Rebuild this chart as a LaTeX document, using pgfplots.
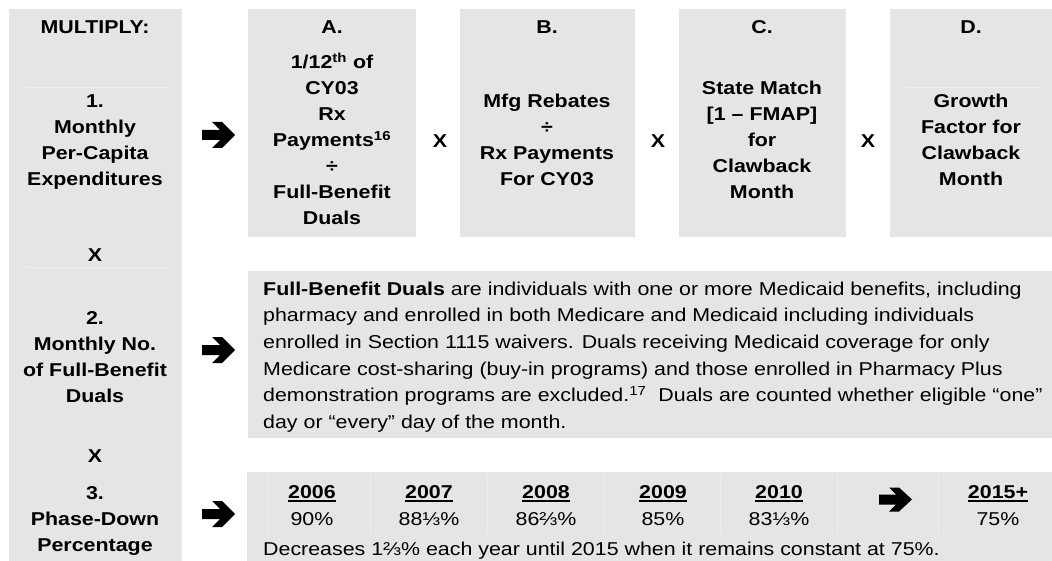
\documentclass[border=0pt]{standalone}
\usepackage{pgfplots}
\pgfplotsset{compat=1.18}
\usepackage{fontspec}
\setmainfont{Liberation Sans}[FakeStretch=1.15]
\definecolor{boxgray}{RGB}{229,229,229}
\definecolor{sepgray}{RGB}{238,238,238}
\newcommand\ul[1]{\setbox0\hbox{#1}\rlap{\raisebox{-3.8pt}{\rule{\wd0}{1.6pt}}}\box0}
\tikzset{t/.style={inner sep=0pt,font=\fontsize{18.6}{26}\selectfont}}
\begin{document}
\fontsize{18.6}{26}\selectfont
\begin{tikzpicture}
\begin{axis}[width=1052pt,height=561pt,scale only axis,hide axis,
  xmin=0,xmax=1052,ymin=0,ymax=561,y dir=reverse,clip=false]
% frame for bounding box
\addplot[draw=none] coordinates {(0,0) (1052,0) (1052,561) (0,561)};
% boxes
\addplot[fill=boxgray,draw=none] coordinates {(9,9) (182,9) (182,561) (9,561)} -- cycle;
\addplot[fill=boxgray,draw=none] coordinates {(248,9) (416,9) (416,237) (248,237)} -- cycle;
\addplot[fill=boxgray,draw=none] coordinates {(460,9) (635,9) (635,237) (460,237)} -- cycle;
\addplot[fill=boxgray,draw=none] coordinates {(679,9) (846,9) (846,237) (679,237)} -- cycle;
\addplot[fill=boxgray,draw=none] coordinates {(890,9) (1052,9) (1052,237) (890,237)} -- cycle;
\addplot[fill=boxgray,draw=none] coordinates {(248,271) (1052,271) (1052,438) (248,438)} -- cycle;
\addplot[fill=boxgray,draw=none] coordinates {(247,472) (1052,472) (1052,561) (247,561)} -- cycle;
% faint separators
\addplot[sepgray,line width=0.8pt] coordinates {(25,87) (168,87)};
\addplot[sepgray,line width=0.8pt] coordinates {(25,267) (168,267)};
\addplot[sepgray,line width=0.8pt] coordinates {(905,87) (1040,87)};
\addplot[sepgray,line width=0.8pt] coordinates {(267,475) (267,533)};
\addplot[sepgray,line width=0.8pt] coordinates {(370,475) (370,533)};
\addplot[sepgray,line width=0.8pt] coordinates {(487,475) (487,533)};
\addplot[sepgray,line width=0.8pt] coordinates {(604,475) (604,533)};
\addplot[sepgray,line width=0.8pt] coordinates {(720,475) (720,533)};
\addplot[sepgray,line width=0.8pt] coordinates {(837,475) (837,533)};
\addplot[sepgray,line width=0.8pt] coordinates {(938,475) (938,533)};
% arrows
\addplot[fill=black,draw=none] coordinates {(202,130) (220,130) (212,122) (222,122) (235,135) (222,148) (212,148) (220,140) (202,140)} -- cycle;
\addplot[fill=black,draw=none] coordinates {(202,345) (220,345) (212,337) (222,337) (235,350) (222,363) (212,363) (220,355) (202,355)} -- cycle;
\addplot[fill=black,draw=none] coordinates {(202,509) (220,509) (212,501) (222,501) (235,514) (222,527) (212,527) (220,519) (202,519)} -- cycle;
\addplot[fill=black,draw=none] coordinates {(879,494.5) (896,494.5) (889,487.5) (899,487.5) (912,499.5) (899,511.5) (889,511.5) (896,504.5) (879,504.5)} -- cycle;
% left column
\node[t,anchor=base] at (95,34) {\bfseries MULTIPLY:};
\node[t,anchor=base] at (95,108) {\bfseries 1.};
\node[t,anchor=base] at (95,134) {\bfseries Monthly};
\node[t,anchor=base] at (95,160) {\bfseries Per-Capita};
\node[t,anchor=base] at (95,186) {\bfseries Expenditures};
\node[t,anchor=base] at (95,262) {\bfseries X};
\node[t,anchor=base] at (95,324) {\bfseries 2.};
\node[t,anchor=base] at (95,350) {\bfseries Monthly No.};
\node[t,anchor=base] at (95,376) {\bfseries of Full-Benefit};
\node[t,anchor=base] at (95,402) {\bfseries Duals};
\node[t,anchor=base] at (95,462) {\bfseries X};
\node[t,anchor=base] at (95,499) {\bfseries 3.};
\node[t,anchor=base] at (95,525) {\bfseries Phase-Down};
\node[t,anchor=base] at (95,551) {\bfseries Percentage};
% A
\node[t,anchor=base] at (332,34) {\bfseries A.};
\node[t,anchor=base] at (332,69) {\bfseries 1/12\textsuperscript{th} of};
\node[t,anchor=base] at (332,95) {\bfseries CY03};
\node[t,anchor=base] at (332,121) {\bfseries Rx};
\node[t,anchor=base] at (332,147) {\bfseries Payments\textsuperscript{16}};
\node[t,anchor=base] at (332,173) {\bfseries ÷};
\node[t,anchor=base] at (332,199) {\bfseries Full-Benefit};
\node[t,anchor=base] at (332,225) {\bfseries Duals};
% X signs
\node[t,anchor=base] at (440,148) {\bfseries X};
\node[t,anchor=base] at (658,148) {\bfseries X};
\node[t,anchor=base] at (868,148) {\bfseries X};
% B
\node[t,anchor=base] at (547,34) {\bfseries B.};
\node[t,anchor=base] at (547,108) {\bfseries Mfg Rebates};
\node[t,anchor=base] at (547,134) {\bfseries ÷};
\node[t,anchor=base] at (547,160) {\bfseries Rx Payments};
\node[t,anchor=base] at (547,186) {\bfseries For CY03};
% C
\node[t,anchor=base] at (762,34) {\bfseries C.};
\node[t,anchor=base] at (762,95) {\bfseries State Match};
\node[t,anchor=base] at (762,121) {\bfseries [1 – FMAP]};
\node[t,anchor=base] at (762,147) {\bfseries for};
\node[t,anchor=base] at (762,173) {\bfseries Clawback};
\node[t,anchor=base] at (762,199) {\bfseries Month};
% D
\node[t,anchor=base] at (971,34) {\bfseries D.};
\node[t,anchor=base] at (971,108) {\bfseries Growth};
\node[t,anchor=base] at (971,134) {\bfseries Factor for};
\node[t,anchor=base] at (971,160) {\bfseries Clawback};
\node[t,anchor=base] at (971,186) {\bfseries Month};
% Full-benefit paragraph
\node[t,anchor=base west] at (263,295) {\textbf{Full-Benefit Duals} are individuals with one or more Medicaid benefits, including};
\node[t,anchor=base west] at (263,321.7) {pharmacy and enrolled in both Medicare and Medicaid including individuals};
\node[t,anchor=base west] at (263,348.3) {enrolled in Section 1115 waivers. Duals receiving Medicaid coverage for only};
\node[t,anchor=base west] at (263,375) {Medicare cost-sharing (buy-in programs) and those enrolled in Pharmacy Plus};
\node[t,anchor=base west] at (263,401.7) {demonstration programs are excluded.\textsuperscript{17}\ \ Duals are counted whether eligible “one”};
\node[t,anchor=base west] at (263,428.3) {day or “every” day of the month.};
% phase-down row
\node[t,anchor=base] at (312,498) {\bfseries\ul{2006}};
\node[t,anchor=base] at (429,498) {\bfseries\ul{2007}};
\node[t,anchor=base] at (546,498) {\bfseries\ul{2008}};
\node[t,anchor=base] at (663,498) {\bfseries\ul{2009}};
\node[t,anchor=base] at (779,498) {\bfseries\ul{2010}};
\node[t,anchor=base] at (998,498) {\bfseries\ul{2015+}};
\node[t,anchor=base] at (312,525) {90\%};
\node[t,anchor=base] at (429,525) {88⅓\%};
\node[t,anchor=base] at (546,525) {86⅔\%};
\node[t,anchor=base] at (663,525) {85\%};
\node[t,anchor=base] at (779,525) {83⅓\%};
\node[t,anchor=base] at (998,525) {75\%};
\node[t,anchor=base west] at (263,555) {Decreases 1⅔\% each year until 2015 when it remains constant at 75\%.};
\end{axis}
\end{tikzpicture}
\end{document}
